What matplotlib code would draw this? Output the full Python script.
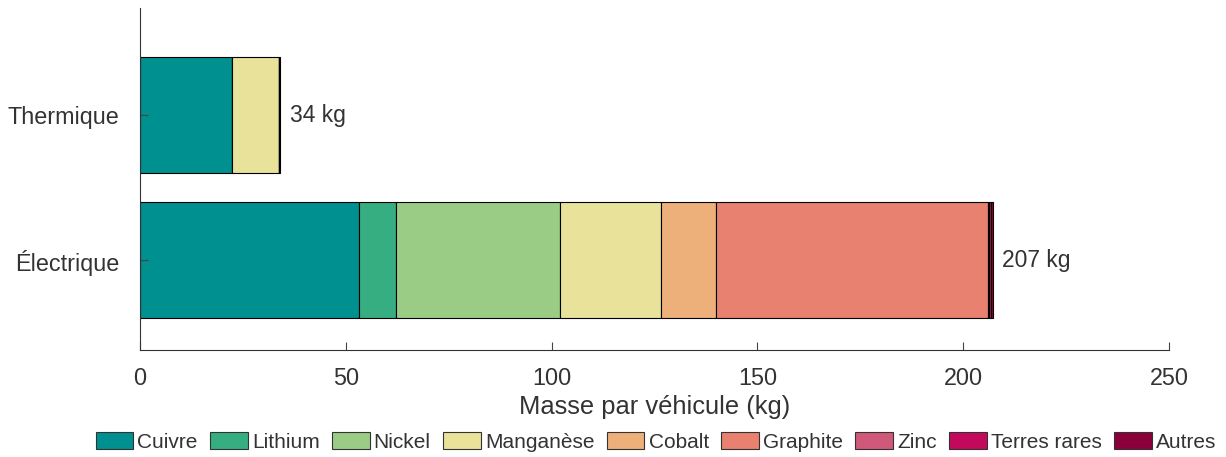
import numpy as np
import matplotlib.pyplot as plt
from matplotlib.patches import Patch

plt.rcParams['font.family'] = ['Liberation Sans', 'DejaVu Sans']

vehicles = ['Électrique', 'Thermique']
minerals = ['Cuivre', 'Lithium', 'Nickel', 'Manganèse', 'Cobalt', 'Graphite',
            'Zinc', 'Terres rares', 'Autres']
# kg per vehicle, order: Électrique, Thermique
cuivre = [53.2, 22.3]
lithium = [9.0, 0.0]
nickel = [39.8, 0.0]
manganese = [24.6, 11.4]
cobalt = [13.3, 0.0]
graphite = [66.1, 0.0]
zinc = [0.3, 0.1]
terres_rares = [0.5, 0.0]
autres = [0.4, 0.2]
totals = [207, 34]

series = [cuivre, lithium, nickel, manganese, cobalt, graphite, zinc, terres_rares, autres]
colors = ['#009090', '#36AE82', '#9BCC85', '#E9E29B', '#EDB07A', '#E8816F',
          '#D0597A', '#C3095C', '#8B003A']

fig = plt.figure(figsize=(12.26, 4.57), dpi=100)
ax = fig.add_axes([0.1142, 0.2341, 0.8393, 0.7484])

y = np.arange(len(vehicles))
left = np.zeros(len(vehicles))
for vals, c in zip(series, colors):
    vals = np.array(vals)
    ax.barh(y, vals, left=left, height=0.8, color=c, edgecolor='black', linewidth=0.8)
    left += vals

for yi, t in zip(y, totals):
    ax.text(t + 2.5, yi, f'{t} kg', va='center', ha='left', fontsize=16.5, color='#333333')

ax.set_xlim(0, 250)
ax.set_ylim(-0.62, 1.738)
ax.set_yticks(y)
ax.set_yticklabels(vehicles)
ax.set_xticks([0, 50, 100, 150, 200, 250])
ax.tick_params(axis='both', direction='in', labelsize=16.8, colors='#444444',
               labelcolor='#333333', length=6)
ax.tick_params(axis='x', pad=12)
ax.tick_params(axis='y', pad=15)
for s in ['top', 'right']:
    ax.spines[s].set_visible(False)
for s in ['left', 'bottom']:
    ax.spines[s].set_color('#333333')
ax.set_xlabel('Masse par véhicule (kg)', fontsize=18.4, color='#333333', labelpad=4)

handles = [Patch(facecolor=c, edgecolor='#333333', linewidth=0.8, label=m)
           for m, c in zip(minerals, colors)]
fig.legend(handles=handles, loc='center', bbox_to_anchor=(0.535, 1 - 442 / 457), ncol=9,
           frameon=False, fontsize=15, handlelength=1.8, handleheight=0.9,
           handletextpad=0.2, columnspacing=0.6, labelcolor='#333333',
           borderpad=0, borderaxespad=0)

plt.savefig('out.png', dpi=100)
